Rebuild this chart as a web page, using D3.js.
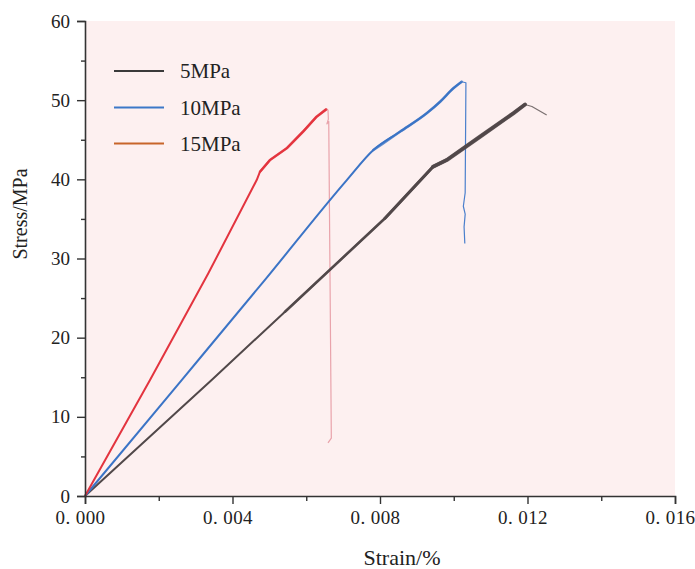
<!DOCTYPE html>
<html>
<head>
<meta charset="utf-8">
<script src="https://cdn.jsdelivr.net/npm/d3@7"></script>
<style>
  html, body { margin: 0; padding: 0; background: #fff; }
  svg { display: block; }
  text { font-family: "Liberation Serif", "DejaVu Serif", serif; fill: #222; }
</style>
</head>
<body>
<svg id="chart" width="695" height="569"></svg>
<script>
// Stress–strain curves at three confining pressures
const seriesNames = ["5MPa", "10MPa", "15MPa"];
const legendColors = ["#3a3a3a", "#3c78c8", "#c8652a"];
const lineColors = ["#514849", "#3b74c6", "#e3343f"];
const postColors = ["#7a7070", "#4a7fcc", "#e9a3ab"];

// 5MPa: loading branch
const strain5 = [0, 0.003435, 0.005424, 0.008136, 0.009437, 0.009809, 0.01071, 0.011615, 0.011932];
const stress5 = [0, 14.65, 23.28, 35.08, 41.59, 42.44, 45.38, 48.34, 49.45];
// 5MPa: post-peak branch
const strain5Post = [0.011932, 0.01212, 0.01252];
const stress5Post = [49.45, 49.20, 48.12];

// 10MPa: loading branch
const strain10 = [0, 0.002622, 0.00488, 0.0071, 0.00782, 0.00854, 0.009266, 0.00963, 0.00999, 0.010215];
const stress10 = [0, 14.65, 27.30, 39.90, 43.70, 46.01, 48.34, 49.80, 51.50, 52.33];
// 10MPa: post-peak branch
const strain10Post = [0.010215, 0.01033, 0.01031, 0.01026, 0.01031, 0.01028, 0.01030];
const stress10Post = [52.33, 52.20, 38.3, 36.6, 35.6, 34.0, 31.9];

// 15MPa: loading branch
const strain15 = [0, 0.001763, 0.003345, 0.004656, 0.004746, 0.005017, 0.00547, 0.00591, 0.00628, 0.00654];
const stress15 = [0, 14.65, 28.13, 39.91, 40.96, 42.44, 43.92, 46.01, 47.91, 48.84];
// 15MPa: post-peak branch
const strain15Post = [0.00654, 0.00659, 0.00660, 0.00656, 0.00661, 0.00668, 0.00659];
const stress15Post = [48.84, 48.76, 47.6, 47.0, 47.3, 7.3, 6.7];

const xTicks = [0, 0.004, 0.008, 0.012, 0.016];
const xMinorTicks = [0.002, 0.006, 0.010, 0.014];
const yTicks = [0, 10, 20, 30, 40, 50, 60];
const yMinorTicks = [5, 15, 25, 35, 45, 55];

const svg = d3.select("#chart");
const margin = { left: 85, right: 20, top: 21, bottom: 73 };
const W = 695, H = 569;
const innerW = W - margin.left - margin.right;
const innerH = H - margin.top - margin.bottom;

const x = d3.scaleLinear().domain([0, 0.016]).range([margin.left, margin.left + innerW]);
const y = d3.scaleLinear().domain([0, 60]).range([margin.top + innerH, margin.top]);

// plot background
svg.append("rect")
  .attr("x", margin.left).attr("y", margin.top)
  .attr("width", innerW).attr("height", innerH)
  .attr("fill", "#fdf0f0");

const zip = (xs, ys) => xs.map((v, i) => [v, ys[i]]);
const line = d3.line().x(d => x(d[0])).y(d => y(d[1]));
const smooth = d3.line().x(d => x(d[0])).y(d => y(d[1])).curve(d3.curveMonotoneX);
// the 10MPa branch bends gradually; the others are drawn point to point
const curveFor = [line, smooth, line];

const loading = [zip(strain5, stress5), zip(strain10, stress10), zip(strain15, stress15)];
const post = [zip(strain5Post, stress5Post), zip(strain10Post, stress10Post), zip(strain15Post, stress15Post)];

const g = svg.append("g");
// post-peak branches drawn thin
post.forEach((d, i) => {
  g.append("path").datum(d).attr("d", line)
    .attr("fill", "none").attr("stroke", postColors[i])
    .attr("stroke-width", 1.2).attr("stroke-linejoin", "round");
});
// loading branches
loading.forEach((d, i) => {
  g.append("path").datum(d).attr("d", curveFor[i])
    .attr("fill", "none").attr("stroke", lineColors[i])
    .attr("stroke-width", 2).attr("stroke-linejoin", "round");
});
// scatter of the readings widens the upper parts of each branch
const band = (i, from, width, opacity) => {
  g.append("path").datum(loading[i].filter(d => d[0] >= from)).attr("d", curveFor[i])
    .attr("fill", "none").attr("stroke", lineColors[i]).attr("stroke-opacity", opacity)
    .attr("stroke-width", width).attr("stroke-linejoin", "round").attr("stroke-linecap", "round");
};
band(0, 0.005424, 2.6, 0.9);
band(0, 0.008136, 3.2, 0.85);
band(0, 0.009437, 4.0, 0.85);
band(1, 0.00782, 2.6, 0.8);
band(2, 0.004746, 2.6, 0.8);

// axes
const fmtX = v => d3.format(".3f")(v).replace(".", ". ");
const xAxis = d3.axisBottom(x).tickValues(xTicks).tickSize(8).tickPadding(7).tickFormat(fmtX);
const yAxis = d3.axisLeft(y).tickValues(yTicks).tickSize(8).tickPadding(7).tickFormat(d3.format("d"));

const gx = svg.append("g").attr("transform", `translate(0,${margin.top + innerH})`).call(xAxis);
const gy = svg.append("g").attr("transform", `translate(${margin.left},0)`).call(yAxis);

svg.append("g").attr("transform", `translate(0,${margin.top + innerH})`)
  .call(d3.axisBottom(x).tickValues(xMinorTicks).tickSize(5).tickFormat(""))
  .call(s => s.select(".domain").remove());
svg.append("g").attr("transform", `translate(${margin.left},0)`)
  .call(d3.axisLeft(y).tickValues(yMinorTicks).tickSize(4).tickFormat(""))
  .call(s => s.select(".domain").remove());

svg.selectAll(".domain").attr("stroke", "#333").attr("stroke-width", 1.6);
svg.selectAll(".tick line").attr("stroke", "#333").attr("stroke-width", 1.4);
gx.selectAll(".tick text").attr("font-size", 19).attr("fill", "#333")
  .attr("dx", -5).attr("letter-spacing", 0.4)
  .style("font-family", "'Liberation Serif', serif");
gy.selectAll(".tick text").attr("font-size", 19).attr("fill", "#333")
  .style("font-family", "'Liberation Serif', serif");

// axis titles
svg.append("text")
  .attr("x", 402).attr("y", 565)
  .attr("text-anchor", "middle").attr("font-size", 22)
  .text("Strain/%");
svg.append("text")
  .attr("transform", `translate(27,214) rotate(-90)`)
  .attr("text-anchor", "middle").attr("font-size", 20)
  .text("Stress/MPa");

// legend
const legend = svg.append("g");
const legendY = [71, 107.5, 143.5];
seriesNames.forEach((name, i) => {
  legend.append("line")
    .attr("x1", 114).attr("x2", 164)
    .attr("y1", legendY[i]).attr("y2", legendY[i])
    .attr("stroke", legendColors[i]).attr("stroke-width", 2);
  legend.append("text")
    .attr("x", 180).attr("y", legendY[i] + 7)
    .attr("font-size", 21).attr("fill", "#222")
    .text(name);
});
</script>
</body>
</html>
